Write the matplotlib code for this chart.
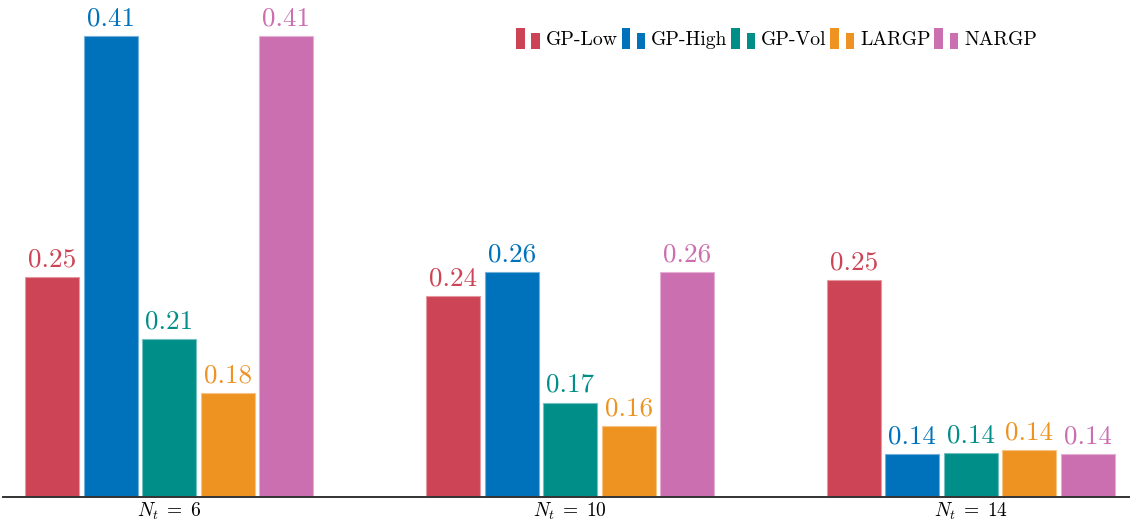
import matplotlib
matplotlib.use("Agg")
import matplotlib.pyplot as plt
import matplotlib.colors as mcolors
from matplotlib.patches import Rectangle
from matplotlib.legend_handler import HandlerBase
import numpy as np

# DATA
groups = [r"$N_t\;=\;6$", r"$N_t\;=\;10$", r"$N_t\;=\;14$"]
methods = ["GP-Low", "GP-High", "GP-Vol", "LARGP", "NARGP"]
gp_low = [0.254, 0.242, 0.252]
gp_high = [0.410, 0.257, 0.1396]
gp_vol = [0.214, 0.173, 0.1406]
largp = [0.179, 0.158, 0.1422]
nargp = [0.410, 0.257, 0.1396]
series = [gp_low, gp_high, gp_vol, largp, nargp]
colors = ["#CC4455", "#0072BB", "#008F88", "#EE9322", "#CC6FB0"]

plt.rcParams["font.family"] = "serif"
plt.rcParams["font.serif"] = ["cmr10"]
plt.rcParams["mathtext.fontset"] = "cm"
plt.rcParams["axes.unicode_minus"] = False


def lighten(c, amt=0.45):
    r, g, b = mcolors.to_rgb(c)
    return (r + (1 - r) * amt, g + (1 - g) * amt, b + (1 - b) * amt)


# pgfplots style "ybar legend": two little bars per entry
class TwoBarHandler(HandlerBase):
    def create_artists(self, legend, orig_handle, xdescent, ydescent,
                       width, height, fontsize, trans):
        c = orig_handle.get_facecolor()
        w = width * 0.36
        r1 = Rectangle((-xdescent, -ydescent - 1), w, height + 2, fc=c,
                       ec="none", transform=trans)
        r2 = Rectangle((-xdescent + width - w, -ydescent - 1), w,
                       (height + 2) * 0.76, fc=c, ec="none", transform=trans)
        return [r1, r2]


fig = plt.figure(figsize=(11.3, 5.23), dpi=100)
ax = fig.add_axes([0.003, 26 / 523, 0.997, 497 / 523])

x = np.arange(len(groups))
pitch = 0.146
width = 0.135
for i, (vals, c, name) in enumerate(zip(series, colors, methods)):
    bars = ax.bar(x + (i - 2) * pitch, vals, width, bottom=0, color=c,
                  edgecolor=lighten(c), linewidth=0.8, label=name)
    ax.bar_label(bars, labels=[f"{v:.2f}" for v in vals], padding=4,
                 color=c, fontsize=19.5)

ax.set_ylim(0.112, 0.433)
ax.set_xlim(-0.414, 2.397)
ax.set_xticks(x)
ax.set_xticklabels(groups, fontsize=14)
ax.tick_params(axis="x", length=0, pad=3)
ax.set_yticks([])
for s in ["top", "right", "left"]:
    ax.spines[s].set_visible(False)
ax.spines["bottom"].set_color("#333333")
ax.spines["bottom"].set_linewidth(1.4)

handles = [Rectangle((0, 0), 1, 1, fc=c) for c in colors]
fig.legend(handles, methods, handler_map={Rectangle: TwoBarHandler()},
           loc="center left", bbox_to_anchor=(516 / 1130, 1 - 39 / 523),
           bbox_transform=fig.transFigure, ncol=5, frameon=False,
           fontsize=14.2, handlelength=1.2, handleheight=1.05,
           handletextpad=0.3, columnspacing=0.2, borderpad=0,
           borderaxespad=0)

fig.savefig("out.png", dpi=100)
